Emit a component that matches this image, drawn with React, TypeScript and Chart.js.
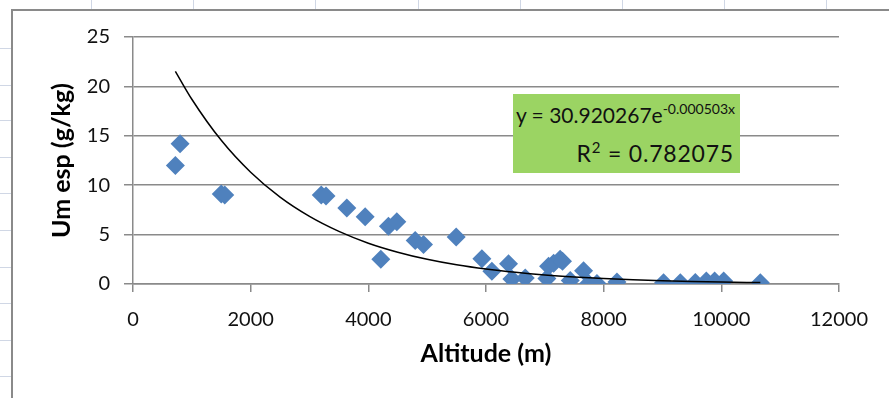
import React, { useEffect, useRef } from "react";
import { Chart, registerables } from "chart.js";

Chart.register(...registerables);

// Measured points: altitude (m) and specific humidity (g/kg)
const altitude = [
  720, 800, 1500, 1560, 3200, 3280, 3634, 3946, 4212, 4342, 4484, 4796, 4938,
  5493, 5930, 6100, 6383, 6440, 6667, 7035, 7063, 7150, 7260, 7300, 7432, 7658,
  7744, 7886, 8226, 9018, 9303, 9558, 9745, 9886, 10040, 10663,
];
const umEsp = [
  12.0, 14.2, 9.1, 9.0, 9.0, 8.9, 7.7, 6.8, 2.5, 5.85, 6.3, 4.4, 4.0,
  4.75, 2.55, 1.3, 2.05, 0.5, 0.6, 0.55, 1.8, 2.1, 2.5, 2.3, 0.35, 1.35,
  0.05, 0.05, 0.2, 0.13, 0.13, 0.15, 0.3, 0.3, 0.3, 0.13,
];

// Exponential trendline as drawn
const trendX = [
  720, 1000, 1500, 2000, 2500, 3000, 3500, 4000, 4500, 5000, 5500, 6000, 6500,
  7000, 7500, 8000, 8500, 9000, 9500, 10000, 10663,
];
const trendY = [
  21.53, 18.7, 14.54, 11.31, 8.79, 6.84, 5.32, 4.13, 3.22, 2.5, 1.94, 1.51,
  1.18, 0.914, 0.711, 0.553, 0.43, 0.334, 0.26, 0.202, 0.145,
];

const xTicks = [0, 2000, 4000, 6000, 8000, 10000, 12000];
const yTicks = [0, 5, 10, 15, 20, 25];

const equationMain = "y = 30.920267e";
const equationExp = "-0.000503x";
const rSquaredLabel = "R";
const rSquaredValue = " = 0.782075";

const xTitle = "Altitude (m)";
const yTitle = "Um esp (g/kg)";

const colLines = [91, 193, 315, 418, 520, 622, 724, 826];
const rowLines = [48, 85, 120, 157, 193, 230, 267, 303, 340, 376];

export default function App() {
  const ref = useRef<HTMLCanvasElement | null>(null);

  useEffect(() => {
    if (!ref.current) return;
    const chart = new Chart(ref.current, {
      type: "scatter",
      data: {
        datasets: [
          {
            label: "trend",
            data: trendX.map((x, i) => ({ x, y: trendY[i] })),
            showLine: true,
            borderColor: "#000000",
            borderWidth: 1.5,
            pointRadius: 0,
            cubicInterpolationMode: "monotone",
            fill: false,
          },
          {
            label: "data",
            data: altitude.map((x, i) => ({ x, y: umEsp[i] })),
            pointStyle: "rectRot",
            pointRadius: 9.5,
            backgroundColor: "#4f81bd",
            borderColor: "#4f81bd",
            borderWidth: 0,
            showLine: false,
          },
        ],
      },
      options: {
        animation: false,
        responsive: false,
        maintainAspectRatio: false,
        layout: { padding: { left: 30, top: 25, right: 50, bottom: 30 } },
        plugins: {
          legend: { display: false },
          tooltip: { enabled: false },
        },
        scales: {
          x: {
            type: "linear",
            min: 0,
            max: 12000,
            afterBuildTicks: (s: any) => {
              s.ticks = xTicks.map((v) => ({ value: v }));
            },
            afterFit: (s: any) => {
              s.height = 85;
            },
            grid: {
              drawOnChartArea: false,
              drawTicks: true,
              tickLength: 8,
              color: "#8a8a8a",
              lineWidth: 1.5,
            },
            border: { color: "#8a8a8a", width: 1.5 },
            ticks: {
              color: "#111111",
              font: { family: "Lato", size: 20 },
              padding: 16,
              maxRotation: 0,
              callback: (v: any) => String(v),
            },
            title: {
              display: true,
              text: xTitle,
              color: "#000000",
              font: { family: "Lato", size: 25, weight: "bold" },
              padding: { top: 0, bottom: 0 },
            },
          },
          y: {
            type: "linear",
            min: 0,
            max: 25,
            afterBuildTicks: (s: any) => {
              s.ticks = yTicks.map((v) => ({ value: v }));
            },
            afterFit: (s: any) => {
              s.width = 90;
            },
            grid: {
              drawOnChartArea: true,
              drawTicks: true,
              tickLength: 9,
              color: "#8a8a8a",
              lineWidth: 1.5,
            },
            border: { color: "#8a8a8a", width: 1.5 },
            ticks: {
              color: "#111111",
              font: { family: "Lato", size: 20 },
              padding: 14,
            },
            title: {
              display: true,
              text: yTitle,
              color: "#000000",
              font: { family: "Lato", size: 25, weight: "bold" },
              padding: { top: 4, bottom: 0 },
            },
          },
        },
      },
    });
    return () => chart.destroy();
  }, []);

  return (
    <div
      style={{
        position: "fixed",
        left: 0,
        top: 0,
        width: 889,
        height: 398,
        overflow: "hidden",
        background: "#ffffff",
      }}
    >
      {colLines.map((x) => (
        <div
          key={"c" + x}
          style={{ position: "absolute", left: x, top: 0, width: 1, height: 10, background: "#d0d7e5" }}
        />
      ))}
      {rowLines.map((y) => (
        <div
          key={"r" + y}
          style={{ position: "absolute", left: 0, top: y, width: 12, height: 1, background: "#d0d7e5" }}
        />
      ))}
      <div
        style={{
          position: "absolute",
          left: 11,
          top: 9,
          width: 900,
          height: 400,
          borderLeft: "2px solid #8a8a8a",
          borderTop: "2px solid #8a8a8a",
          background: "#ffffff",
        }}
      >
        <canvas ref={ref} width={876} height={388} style={{ display: "block", width: 876, height: 388 }} />
      </div>
      <div
        style={{
          position: "absolute",
          left: 513,
          top: 94,
          width: 227,
          height: 79,
          background: "#9bd463",
          fontFamily: "Lato",
          color: "#111111",
        }}
      >
        <div style={{ position: "absolute", right: 5, top: 2, fontSize: 21, lineHeight: "26px", whiteSpace: "nowrap" }}>
          {equationMain}
          <span style={{ fontSize: 14, verticalAlign: 9 }}>{equationExp}</span>
        </div>
        <div
          style={{
            position: "absolute",
            right: 6,
            top: 40,
            fontSize: 23,
            lineHeight: "26px",
            letterSpacing: 0.8,
            whiteSpace: "nowrap",
          }}
        >
          {rSquaredLabel}
          <span style={{ fontSize: 15, verticalAlign: 9 }}>2</span>
          {rSquaredValue}
        </div>
      </div>
    </div>
  );
}
